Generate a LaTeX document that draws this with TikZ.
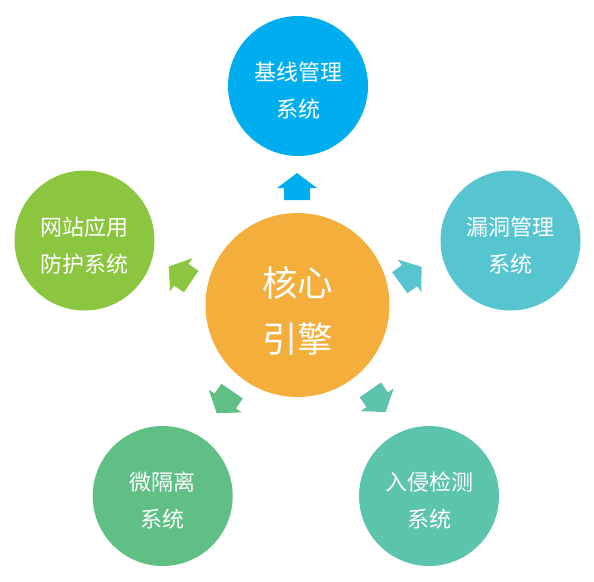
\documentclass[tikz,border=0pt]{standalone}
\usepackage{fontspec}
\newfontfamily\cjk{Noto Sans CJK SC}
\definecolor{cTop}{HTML}{00AEEF}
\definecolor{cRight}{HTML}{56C5D0}
\definecolor{cLeft}{HTML}{8CC540}
\definecolor{cBL}{HTML}{5FBF84}
\definecolor{cBR}{HTML}{5CC3AD}
\definecolor{cCenter}{HTML}{F3AE3B}
\newcommand{\padO}{\rule{0pt}{28pt}}
\newcommand{\padC}{\rule{0pt}{41pt}}
\tikzset{
  outer/.style={circle, inner sep=0pt, minimum size=140pt, text=white, align=center,
    font=\cjk\fontsize{22}{37}\selectfont},
  core/.style={circle, inner sep=0pt, minimum size=184pt, text=white, align=center,
    font=\cjk\fontsize{35.5}{56}\selectfont},
  housearrow/.style={draw=none}
}
\newcommand{\housepath}{(-13.5,-13) -- (-1.5,-13) -- (-1.5,-20) -- (13.5,0) -- (-1.5,20) -- (-1.5,13) -- (-13.5,13) -- cycle}
\begin{document}
\begin{tikzpicture}[x=1pt,y=-1pt]
\useasboundingbox (0,0) rectangle (594,581);
\node[core, fill=cCenter] (core) at (297.5,305) {\padC 核心\\引擎};
\node[outer, fill=cTop] (base) at (298,86) {\padO 基线管理\\系统};
\node[outer, fill=cRight] (vuln) at (510.5,240.5) {\padO 漏洞管理\\系统};
\node[outer, fill=cLeft] (waf) at (84.5,240.5) {\padO 网站应用\\防护系统};
\node[outer, fill=cBL] (micro) at (162.7,496) {\padO 微隔离\\系统};
\node[outer, fill=cBR] (ids) at (429,496) {\padO 入侵检测\\系统};
\fill[housearrow, cTop, shift={(297,186.5)}, rotate=90] \housepath;
\fill[housearrow, cRight, shift={(410.7,274.8)}, rotate=36] \housepath;
\fill[housearrow, cLeft, shift={(180,274)}, rotate=146] \housepath;
\fill[housearrow, cBL, shift={(224.4,402.2)}, rotate=-124.5] \housepath;
\fill[housearrow, cBR, shift={(378,401)}, rotate=-55.5] \housepath;
\end{tikzpicture}
\end{document}
